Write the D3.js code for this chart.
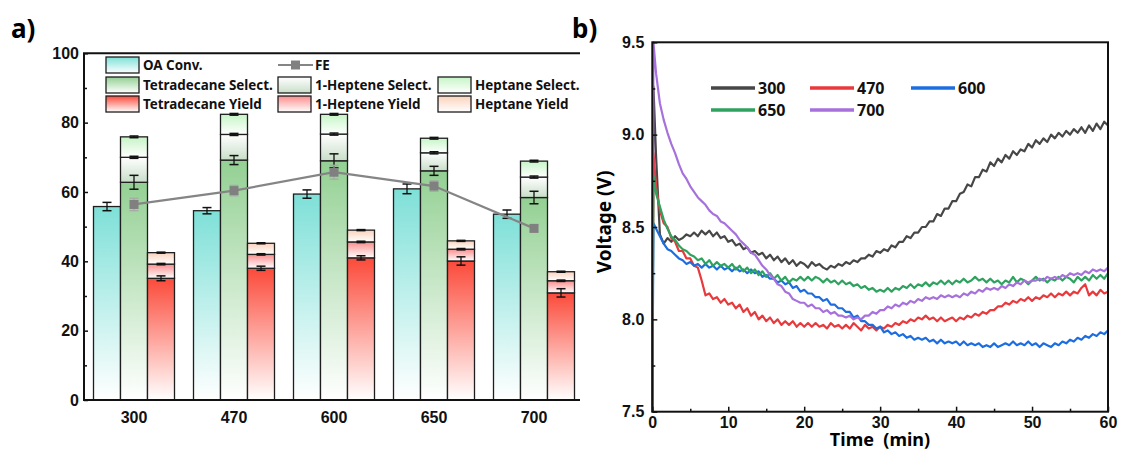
<!DOCTYPE html>
<html>
<head>
<meta charset="utf-8">
<script src="https://cdn.jsdelivr.net/npm/d3@7"></script>
<style>
  body { margin: 0; background: #fff; }
  svg { display: block; font-family: "Noto Sans", "DejaVu Sans", sans-serif; font-weight: bold; }
</style>
</head>
<body>
<svg id="chart" width="1121" height="452"></svg>
<script>
// ---------- Panel a: conversion / selectivity / yield per current density ----------
const categories = ["300", "470", "600", "650", "700"];
const oaConv    = [55.8, 54.6, 59.4, 60.9, 53.6];
const oaConvErr = [1.2, 0.9, 1.2, 1.4, 1.2];
const tetSel    = [62.8, 69.2, 69.0, 66.1, 58.4];
const tetSelErr = [2.0, 1.3, 2.0, 1.3, 1.8];
const hepteneSel = [7.2, 7.4, 7.7, 5.2, 5.9];
const heptaneSel = [5.9, 5.8, 5.7, 4.2, 4.6];
const tetYield    = [35.1, 38.0, 41.0, 40.1, 30.9];
const tetYieldErr = [0.7, 0.6, 0.6, 1.2, 1.2];
const hepteneYield = [4.1, 4.0, 4.6, 3.4, 3.5];
const heptaneYield = [3.3, 3.2, 3.4, 2.4, 2.6];
const fe    = [56.4, 60.4, 65.7, 61.7, 49.5];
const feErr = [1.8, 1.5, 2.0, 1.5, 1.0];
const yTicksA = [0, 20, 40, 60, 80, 100];
const yMinorA = [10, 30, 50, 70, 90];

// ---------- Panel b: cell voltage vs time ----------
const seriesNames = ["300", "470", "600", "650", "700"];
const seriesColors = ["#474747", "#e8393c", "#1c6ee0", "#2ea35f", "#a771dc"];
const timeMin = [0, 0.15,
  0.5,1,1.5,2,2.5,3,3.5,4,4.5,5,5.5,6,6.5,7,7.5,8,8.5,9,9.5,10,
  10.5,11,11.5,12,12.5,13,13.5,14,14.5,15,15.5,16,16.5,17,17.5,18,18.5,19,19.5,20,
  20.5,21,21.5,22,22.5,23,23.5,24,24.5,25,25.5,26,26.5,27,27.5,28,28.5,29,29.5,30,
  30.5,31,31.5,32,32.5,33,33.5,34,34.5,35,35.5,36,36.5,37,37.5,38,38.5,39,39.5,40,
  40.5,41,41.5,42,42.5,43,43.5,44,44.5,45,45.5,46,46.5,47,47.5,48,48.5,49,49.5,50,
  50.5,51,51.5,52,52.5,53,53.5,54,54.5,55,55.5,56,56.5,57,57.5,58,58.5,59,59.5,60];
const v300 = [7.5, 9.26,
  8.88,8.46,8.41,8.44,8.42,8.45,8.43,8.44,8.46,8.45,8.47,8.45,8.48,8.46,8.48,8.45,8.47,8.44,8.45,8.42,
  8.43,8.40,8.41,8.38,8.39,8.36,8.37,8.35,8.36,8.33,8.35,8.32,8.34,8.31,8.33,8.30,8.32,8.29,8.31,8.30,
  8.28,8.31,8.29,8.30,8.28,8.27,8.29,8.28,8.30,8.29,8.31,8.30,8.32,8.31,8.33,8.33,8.35,8.34,8.37,8.36,
  8.38,8.37,8.40,8.39,8.42,8.42,8.45,8.44,8.47,8.47,8.50,8.50,8.53,8.53,8.57,8.56,8.60,8.60,8.64,8.64,
  8.68,8.69,8.73,8.72,8.77,8.77,8.81,8.80,8.85,8.83,8.87,8.85,8.89,8.87,8.91,8.89,8.92,8.91,8.95,8.93,
  8.97,8.95,8.98,8.96,9.00,8.98,9.01,8.99,9.02,9.00,9.03,9.01,9.04,9.01,9.05,9.02,9.06,9.03,9.07,9.05];
const v470 = [7.5, 8.90,
  8.72,8.59,8.52,8.50,8.44,8.42,8.37,8.37,8.33,8.33,8.29,8.28,8.21,8.13,8.14,8.11,8.12,8.09,8.11,8.08,
  8.09,8.06,8.08,8.04,8.06,8.02,8.04,8.00,8.02,7.99,8.01,7.98,8.00,7.97,7.99,7.97,7.99,7.96,7.98,7.96,
  7.98,7.96,7.98,7.96,7.97,7.95,7.98,7.96,7.97,7.95,7.97,7.95,7.98,7.96,7.94,7.97,7.95,7.96,7.94,7.96,
  7.95,7.97,7.96,7.98,7.97,7.99,7.98,8.00,7.99,8.01,8.00,8.02,8.00,8.01,7.99,8.01,7.99,8.00,8.01,7.99,
  8.01,8.00,8.02,8.01,8.03,8.02,8.04,8.03,8.05,8.05,8.07,8.07,8.09,8.08,8.10,8.09,8.11,8.10,8.12,8.10,
  8.12,8.11,8.13,8.12,8.14,8.12,8.14,8.13,8.15,8.13,8.15,8.14,8.17,8.19,8.13,8.15,8.13,8.16,8.14,8.15];
const v600 = [7.5, 8.52,
  8.49,8.45,8.41,8.38,8.37,8.35,8.33,8.32,8.30,8.31,8.29,8.30,8.28,8.30,8.28,8.29,8.27,8.29,8.27,8.28,
  8.26,8.28,8.26,8.27,8.25,8.27,8.25,8.26,8.23,8.24,8.22,8.22,8.20,8.21,8.19,8.20,8.17,8.18,8.15,8.16,
  8.14,8.14,8.12,8.12,8.10,8.11,8.08,8.08,8.06,8.06,8.04,8.04,8.01,8.02,7.99,7.99,7.97,7.97,7.95,7.96,
  7.93,7.94,7.92,7.93,7.91,7.92,7.90,7.91,7.89,7.90,7.89,7.90,7.88,7.89,7.87,7.89,7.87,7.88,7.87,7.88,
  7.86,7.88,7.86,7.87,7.86,7.87,7.85,7.86,7.85,7.87,7.85,7.86,7.87,7.86,7.88,7.86,7.87,7.86,7.88,7.86,
  7.87,7.85,7.87,7.86,7.85,7.87,7.86,7.88,7.87,7.89,7.88,7.90,7.89,7.91,7.90,7.92,7.91,7.93,7.92,7.94];
const v650 = [7.5, 8.78,
  8.68,8.61,8.54,8.49,8.45,8.43,8.40,8.38,8.37,8.35,8.34,8.32,8.33,8.30,8.32,8.29,8.31,8.29,8.30,8.28,
  8.30,8.27,8.29,8.26,8.28,8.25,8.27,8.24,8.26,8.23,8.25,8.22,8.24,8.21,8.23,8.20,8.22,8.21,8.23,8.21,
  8.23,8.21,8.23,8.22,8.20,8.22,8.20,8.21,8.19,8.21,8.19,8.20,8.18,8.19,8.17,8.18,8.16,8.17,8.15,8.16,
  8.15,8.17,8.15,8.17,8.16,8.18,8.17,8.19,8.17,8.19,8.18,8.20,8.18,8.20,8.19,8.21,8.19,8.21,8.19,8.21,
  8.20,8.22,8.20,8.21,8.23,8.21,8.22,8.20,8.22,8.20,8.21,8.19,8.21,8.20,8.23,8.20,8.22,8.21,8.19,8.21,
  8.23,8.21,8.22,8.20,8.22,8.21,8.23,8.21,8.23,8.22,8.20,8.23,8.21,8.23,8.21,8.24,8.22,8.24,8.22,8.25];
const v700 = [7.5, 9.50,
  9.33,9.17,9.08,9.01,8.95,8.90,8.84,8.79,8.76,8.72,8.69,8.66,8.64,8.62,8.59,8.57,8.56,8.53,8.52,8.50,
  8.48,8.46,8.43,8.41,8.39,8.36,8.35,8.32,8.29,8.27,8.24,8.22,8.19,8.18,8.15,8.14,8.11,8.10,8.09,8.09,
  8.07,8.08,8.06,8.06,8.04,8.05,8.03,8.04,8.02,8.02,8.01,8.02,8.00,8.01,8.00,8.02,8.02,8.04,8.03,8.05,
  8.05,8.07,8.06,8.08,8.07,8.09,8.08,8.10,8.09,8.11,8.10,8.12,8.11,8.12,8.11,8.13,8.12,8.13,8.12,8.13,
  8.12,8.14,8.13,8.15,8.14,8.16,8.15,8.17,8.16,8.17,8.16,8.18,8.17,8.19,8.18,8.20,8.19,8.21,8.20,8.21,
  8.21,8.22,8.21,8.23,8.22,8.23,8.22,8.24,8.23,8.25,8.24,8.25,8.24,8.26,8.25,8.27,8.26,8.27,8.26,8.28];
const voltages = [v300, v470, v600, v650, v700];
const xTicksB = [0, 10, 20, 30, 40, 50, 60];
const xMinorB = [5, 15, 25, 35, 45, 55];
const yTicksB = [7.5, 8.0, 8.5, 9.0, 9.5];
const yMinorB = [7.75, 8.25, 8.75, 9.25];

const svg = d3.select("#chart");
const defs = svg.append("defs");

// vertical fades used by the bars and the legend swatches
const gradients = {
  gOA:   ["#7ee0d8", "#ffffff"],
  gTetS: ["#93d093", "#ffffff"],
  gHepS: ["#ffffff", "#c9dec9"],
  gHptS: ["#c6f5c6", "#ffffff"],
  gTetY: ["#fb4a3a", "#ffffff"],
  gHepY: ["#fb8c8c", "#ffffff"],
  gHptY: ["#fbd2bd", "#ffffff"]
};
Object.entries(gradients).forEach(([id, [c0, c1]]) => {
  const g = defs.append("linearGradient").attr("id", id)
    .attr("x1", 0).attr("y1", 0).attr("x2", 0).attr("y2", 1);
  g.append("stop").attr("offset", "0%").attr("stop-color", c0);
  g.append("stop").attr("offset", "100%").attr("stop-color", c1);
});

// ===================== Panel a =====================
const ya = d3.scaleLinear().domain([0, 100]).range([400, 53.3]);
const xa = d3.scaleBand().domain(categories).range([84, 584])
  .paddingInner(0.19).paddingOuter(0.095);
const xi = d3.scaleBand().domain(["conv", "sel", "yield"]).range([0, xa.bandwidth()]);
const gA = svg.append("g");
const barStroke = "#1e1e1e";

function stackSegments(parts) {
  let base = 0;
  return parts.map(p => { const s = { y0: base, y1: base + p.v, fill: p.fill, err: p.err }; base += p.v; return s; });
}

const groups = categories.map((c, i) => ({
  cat: c,
  conv: [{ y0: 0, y1: oaConv[i], fill: "url(#gOA)", err: oaConvErr[i] }],
  sel: stackSegments([
    { v: tetSel[i], fill: "url(#gTetS)", err: tetSelErr[i] },
    { v: hepteneSel[i], fill: "url(#gHepS)", err: 0.3 },
    { v: heptaneSel[i], fill: "url(#gHptS)", err: 0.25 }
  ]),
  yield: stackSegments([
    { v: tetYield[i], fill: "url(#gTetY)", err: tetYieldErr[i] },
    { v: hepteneYield[i], fill: "url(#gHepY)", err: 0.2 },
    { v: heptaneYield[i], fill: "url(#gHptY)", err: 0.15 }
  ])
}));

groups.forEach(gr => {
  ["conv", "sel", "yield"].forEach(key => {
    const x0 = xa(gr.cat) + xi(key);
    const w = xi.bandwidth();
    gA.selectAll(null).data(gr[key]).join("rect")
      .attr("x", x0).attr("width", w)
      .attr("y", d => ya(d.y1)).attr("height", d => ya(d.y0) - ya(d.y1))
      .attr("fill", d => d.fill)
      .attr("stroke", barStroke).attr("stroke-width", 1.3);
    // error bars at each segment top
    const cx = x0 + w / 2;
    gr[key].forEach(d => {
      const eg = gA.append("g").attr("stroke", "#111");
      eg.append("line").attr("x1", cx).attr("x2", cx)
        .attr("y1", ya(d.y1 - d.err)).attr("y2", ya(d.y1 + d.err)).attr("stroke-width", 1.3);
      [d.y1 - d.err, d.y1 + d.err].forEach(v => {
        eg.append("line").attr("x1", cx - 4.5).attr("x2", cx + 4.5)
          .attr("y1", ya(v)).attr("y2", ya(v)).attr("stroke-width", 1.5);
      });
    });
  });
});

// Faradaic efficiency line
const feX = c => xa(c) + xa.bandwidth() / 2;
gA.append("path")
  .datum(categories.map((c, i) => [feX(c), ya(fe[i])]))
  .attr("d", d3.line())
  .attr("fill", "none").attr("stroke", "#858585").attr("stroke-width", 2.2);
categories.forEach((c, i) => {
  const cx = feX(c);
  const eg = gA.append("g").attr("stroke", "#a8a8a8");
  eg.append("line").attr("x1", cx).attr("x2", cx)
    .attr("y1", ya(fe[i] - feErr[i])).attr("y2", ya(fe[i] + feErr[i])).attr("stroke-width", 1.3);
  [fe[i] - feErr[i], fe[i] + feErr[i]].forEach(v => {
    eg.append("line").attr("x1", cx - 4.5).attr("x2", cx + 4.5)
      .attr("y1", ya(v)).attr("y2", ya(v)).attr("stroke-width", 1.3);
  });
  gA.append("rect").attr("x", cx - 4.5).attr("y", ya(fe[i]) - 4.5)
    .attr("width", 9).attr("height", 9).attr("fill", "#808080");
});

// axes of panel a
const yAxisA = d3.axisLeft(ya).tickValues(yTicksA).tickFormat(d3.format("d"))
  .tickSize(-4).tickSizeOuter(0).tickPadding(5);
const gyA = gA.append("g").attr("transform", "translate(84,0)").call(yAxisA);
gyA.select(".domain").remove();
gA.append("g").attr("transform", "translate(84,0)")
  .call(d3.axisLeft(ya).tickValues(yMinorA).tickFormat("").tickSize(-3).tickSizeOuter(0))
  .select(".domain").remove();
const xAxisA = d3.axisBottom(xa).tickSize(0).tickPadding(12);
const gxA = gA.append("g").attr("transform", "translate(0,400)").call(xAxisA);
gxA.select(".domain").remove();
[gyA, gxA].forEach(g => g.selectAll("text").attr("font-size", 16).attr("fill", "#111")
  .attr("font-family", null).attr("font-weight", "bold"));
gA.selectAll(".tick line").attr("stroke", "#111").attr("stroke-width", 1.5);
gA.append("line").attr("x1", 84).attr("x2", 84).attr("y1", 53.3).attr("y2", 401)
  .attr("stroke", "#111").attr("stroke-width", 2);
gA.append("line").attr("x1", 83).attr("x2", 580).attr("y1", 400).attr("y2", 400)
  .attr("stroke", "#111").attr("stroke-width", 2);
gA.append("line").attr("x1", 83).attr("x2", 580).attr("y1", 53.3).attr("y2", 53.3)
  .attr("stroke", "#111").attr("stroke-width", 2);

// legend of panel a
const legA = gA.append("g").attr("font-size", 13.4).attr("fill", "#111");
const legendItems = [
  { col: 0, row: 0, label: "OA Conv.", fill: "url(#gOA)" },
  { col: 0, row: 1, label: "Tetradecane Select.", fill: "url(#gTetS)" },
  { col: 0, row: 2, label: "Tetradecane Yield", fill: "url(#gTetY)" },
  { col: 1, row: 0, label: "FE", line: true },
  { col: 1, row: 1, label: "1-Heptene Select.", fill: "url(#gHepS)" },
  { col: 1, row: 2, label: "1-Heptene Yield", fill: "url(#gHepY)" },
  { col: 2, row: 1, label: "Heptane Select.", fill: "url(#gHptS)" },
  { col: 2, row: 2, label: "Heptane Yield", fill: "url(#gHptY)" }
];
const colX = [106, 278, 438];
const rowY = [57, 77, 96];
legendItems.forEach(it => {
  const x = colX[it.col], y = rowY[it.row];
  if (it.line) {
    legA.append("line").attr("x1", x).attr("x2", x + 35).attr("y1", y + 8).attr("y2", y + 8)
      .attr("stroke", "#858585").attr("stroke-width", 2.2);
    legA.append("rect").attr("x", x + 13).attr("y", y + 3.5).attr("width", 9).attr("height", 9)
      .attr("fill", "#808080");
  } else {
    legA.append("rect").attr("x", x).attr("y", y).attr("width", 33).attr("height", 16)
      .attr("fill", it.fill).attr("stroke", barStroke).attr("stroke-width", 1.3);
  }
  legA.append("text").attr("x", x + 37).attr("y", y + 13).text(it.label);
});

svg.append("text").attr("x", 11).attr("y", 38).attr("font-size", 26).text("a)");

// ===================== Panel b =====================
const xb = d3.scaleLinear().domain([0, 60]).range([652.3, 1108]);
const yb = d3.scaleLinear().domain([7.5, 9.5]).range([411.7, 42.3]);
const gB = svg.append("g");

const line = d3.line().x(d => xb(d[0])).y(d => yb(d[1]));
voltages.forEach((vals, k) => {
  gB.append("path")
    .datum(timeMin.map((t, i) => [t, vals[i]]))
    .attr("d", line)
    .attr("fill", "none").attr("stroke", seriesColors[k])
    .attr("stroke-width", 2.2).attr("stroke-linejoin", "round");
});

const gxB = gB.append("g").attr("transform", "translate(0,411.7)")
  .call(d3.axisBottom(xb).tickValues(xTicksB).tickFormat(d3.format("d")).tickSize(-5).tickSizeOuter(0).tickPadding(5));
gB.append("g").attr("transform", "translate(0,411.7)")
  .call(d3.axisBottom(xb).tickValues(xMinorB).tickFormat("").tickSize(-3).tickSizeOuter(0))
  .select(".domain").remove();
const gyB = gB.append("g").attr("transform", "translate(652.3,0)")
  .call(d3.axisLeft(yb).tickValues(yTicksB).tickFormat(d3.format(".1f")).tickSize(-5).tickSizeOuter(0).tickPadding(8));
gB.append("g").attr("transform", "translate(652.3,0)")
  .call(d3.axisLeft(yb).tickValues(yMinorB).tickFormat("").tickSize(-3).tickSizeOuter(0))
  .select(".domain").remove();
[gxB, gyB].forEach(g => {
  g.selectAll("text").attr("font-size", 16).attr("fill", "#111")
    .attr("font-family", null).attr("font-weight", "bold");
  g.select(".domain").remove();
});
gB.selectAll(".tick line").attr("stroke", "#111").attr("stroke-width", 1.5);
gB.append("rect").attr("x", 652.3).attr("y", 42.3).attr("width", 1108 - 652.3).attr("height", 411.7 - 42.3)
  .attr("fill", "none").attr("stroke", "#111").attr("stroke-width", 2);

// axis titles
gB.append("text").attr("transform", "translate(611,222) rotate(-90)")
  .attr("text-anchor", "middle").attr("font-size", 19).text("Voltage (V)");
gB.append("text").attr("x", 880).attr("y", 446).attr("text-anchor", "middle")
  .attr("font-size", 18).style("white-space", "pre").text("Time  (min)");

// legend of panel b
const legB = gB.append("g").attr("font-size", 16).attr("fill", "#111");
const legPos = [[711, 88], [810, 88], [911, 88], [711, 110], [810, 110]];
seriesNames.forEach((n, k) => {
  const [x, y] = legPos[k];
  legB.append("line").attr("x1", x).attr("x2", x + 44).attr("y1", y).attr("y2", y)
    .attr("stroke", seriesColors[k]).attr("stroke-width", 3.5);
  legB.append("text").attr("x", x + 47).attr("y", y + 6).text(n);
});

svg.append("text").attr("x", 572).attr("y", 38).attr("font-size", 26).text("b)");
</script>
</body>
</html>
